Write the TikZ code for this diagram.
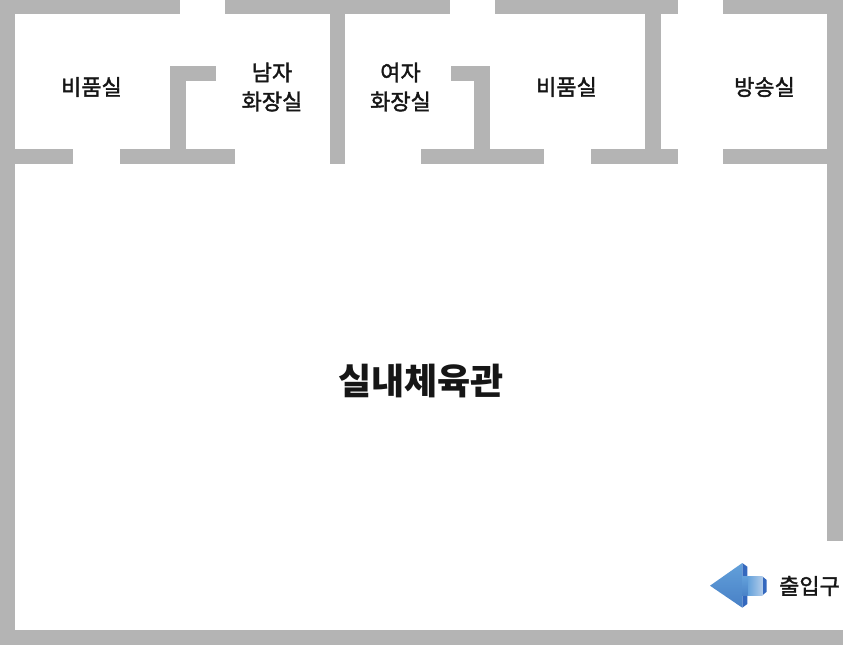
\documentclass[tikz,border=0pt]{standalone}
\usepackage{fontspec}
\setmainfont{Noto Sans CJK KR}
\newfontfamily\medfont[RawFeature={embolden=1.7}]{Noto Sans CJK KR}
\definecolor{wallgray}{RGB}{180,180,180}
\definecolor{labelink}{RGB}{22,22,22}
\definecolor{arrowdark}{RGB}{52,104,190}
\definecolor{arrowmid}{RGB}{72,128,198}
\definecolor{arrowupper}{RGB}{98,160,218}
\definecolor{arrowlight}{RGB}{178,204,234}
\tikzset{
  x=1pt,y=-1pt,
  wallpiece/.style={fill=wallgray,draw=none},
  roomlabel/.style={text=labelink,font=\fontsize{22}{29}\selectfont\medfont,align=center,inner sep=0pt},
  halllabel/.style={text=labelink,font=\fontsize{36}{40}\selectfont\bfseries,inner sep=0pt},
}
\begin{document}
\begin{tikzpicture}
\useasboundingbox (0,0) rectangle (843,645);
\fill[white] (0,0) rectangle (843,645);
% outer walls
\fill[wallpiece] (0,0) rectangle (180,14);
\fill[wallpiece] (225,0) rectangle (450,14);
\fill[wallpiece] (495,0) rectangle (678,14);
\fill[wallpiece] (723,0) rectangle (843,14);
\fill[wallpiece] (0,0) rectangle (15,645);
\fill[wallpiece] (827,0) rectangle (843,541);
\fill[wallpiece] (0,630) rectangle (843,645);
% room front walls
\fill[wallpiece] (15,149) rectangle (73,164);
\fill[wallpiece] (120,149) rectangle (235,164);
\fill[wallpiece] (421,149) rectangle (544,164);
\fill[wallpiece] (591,149) rectangle (678,164);
\fill[wallpiece] (723,149) rectangle (827,164);
% partitions
\fill[wallpiece] (170,66) rectangle (186,164);
\fill[wallpiece] (170,66) rectangle (216,81);
\fill[wallpiece] (330,14) rectangle (345,164);
\fill[wallpiece] (474,66) rectangle (490,164);
\fill[wallpiece] (451,66) rectangle (490,81);
\fill[wallpiece] (645,14) rectangle (661,149);
% labels
\node[roomlabel] (store1) at (91.5,87) {비품실};
\node[roomlabel] (men) at (272,87) {남자\\화장실};
\node[roomlabel] (women) at (400.5,87) {여자\\화장실};
\node[roomlabel] (store2) at (566.5,87) {비품실};
\node[roomlabel] (broadcast) at (764.5,87) {방송실};
\node[halllabel] (hall) at (421,381) {실내체육관};
\node[roomlabel] (entrance) at (809.5,586) {출입구};
% entrance arrow: side faces
\fill[arrowdark] (742.3,563) -- (747.3,566.7) -- (747.3,604) -- (742.3,607.7) -- cycle;
\fill[arrowdark] (762.7,576.7) -- (766.7,580) -- (766.7,591.7) -- (762.7,595) -- cycle;
% shaft
\shade[left color=arrowupper,right color=arrowlight]
  (747.3,576.7) -- (762.7,576.7) -- (762.7,595) -- (747.3,595) -- cycle;
% head
\shade[shading angle=20,top color=arrowupper,bottom color=arrowmid]
  (710,585.7) -- (742.3,563) -- (742.3,607.7) -- cycle;
\shade[top color=arrowupper,bottom color=arrowmid!90!arrowupper]
  (742,576.7) rectangle (747.6,595);
\end{tikzpicture}
\end{document}
